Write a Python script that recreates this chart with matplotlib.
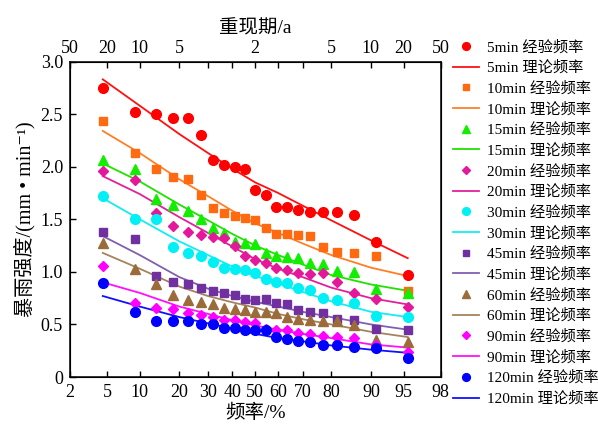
import math
import numpy as np
import matplotlib
matplotlib.use('Agg')
import matplotlib.pyplot as plt
from matplotlib.ticker import NullLocator

plt.rcParams['font.family'] = ['Liberation Serif', 'Noto Sans CJK SC', 'DejaVu Serif']

# empirical frequency m/(n+1), n = 21 (%)
freq_emp = [4.55, 9.09, 13.64, 18.18, 22.73, 27.27, 31.82, 36.36, 40.91, 45.45, 50.0,
            54.55, 59.09, 63.64, 68.18, 72.73, 77.27, 81.82, 86.36, 90.91, 95.45]
# frequencies at which the fitted curves were read (%)
freq_fit = [4.55, 10, 20, 30, 40, 50, 60, 70, 80, 90, 95.45]

emp_5 = [2.75, 2.52, 2.50, 2.46, 2.46, 2.30, 2.06, 2.02, 2.00, 1.98, 1.78,
         1.73, 1.62, 1.62, 1.59, 1.57, 1.57, 1.57, 1.54, 1.28, 0.97]
fit_5 = [2.83, 2.58, 2.31, 2.13, 1.98, 1.85, 1.75, 1.63, 1.49, 1.30, 1.13]

emp_10 = [2.43, 2.13, 1.98, 1.90, 1.88, 1.73, 1.61, 1.56, 1.53, 1.51, 1.49,
          1.42, 1.36, 1.36, 1.35, 1.34, 1.24, 1.19, 1.18, 1.15, 0.82]
fit_10 = [2.34, 2.13, 1.88, 1.72, 1.58, 1.46, 1.37, 1.27, 1.16, 1.04, 0.96]

emp_15 = [2.06, 1.98, 1.69, 1.64, 1.58, 1.50, 1.42, 1.37, 1.28, 1.27, 1.26,
          1.18, 1.15, 1.14, 1.13, 1.08, 1.07, 1.01, 1.00, 0.84, 0.80]
fit_15 = [2.03, 1.86, 1.64, 1.49, 1.36, 1.25, 1.16, 1.07, 0.97, 0.88, 0.82]

emp_20 = [1.96, 1.87, 1.56, 1.44, 1.38, 1.35, 1.33, 1.32, 1.25, 1.15, 1.11,
          1.08, 1.04, 1.02, 0.99, 0.98, 0.99, 0.90, 0.80, 0.74, 0.67]
fit_20 = [1.91, 1.74, 1.52, 1.37, 1.24, 1.12, 1.03, 0.95, 0.85, 0.75, 0.69]

emp_30 = [1.72, 1.50, 1.50, 1.24, 1.18, 1.15, 1.09, 1.04, 1.03, 1.02, 0.99,
          0.93, 0.90, 0.89, 0.85, 0.83, 0.75, 0.73, 0.70, 0.58, 0.57]
fit_30 = [1.70, 1.50, 1.29, 1.16, 1.05, 0.96, 0.89, 0.81, 0.72, 0.62, 0.57]

emp_45 = [1.38, 1.31, 0.96, 0.90, 0.88, 0.85, 0.82, 0.80, 0.78, 0.74, 0.73,
          0.74, 0.70, 0.69, 0.64, 0.62, 0.61, 0.55, 0.54, 0.46, 0.45]
fit_45 = [1.34, 1.16, 0.95, 0.84, 0.77, 0.715, 0.67, 0.62, 0.57, 0.50, 0.45]

emp_60 = [1.27, 1.03, 0.88, 0.78, 0.73, 0.71, 0.69, 0.66, 0.65, 0.64, 0.62,
          0.62, 0.61, 0.57, 0.55, 0.54, 0.53, 0.53, 0.49, 0.35, 0.33]
fit_60 = [1.18, 1.03, 0.86, 0.77, 0.71, 0.66, 0.60, 0.55, 0.50, 0.43, 0.38]

emp_90 = [1.06, 0.70, 0.66, 0.65, 0.61, 0.59, 0.57, 0.54, 0.54, 0.52, 0.51,
          0.46, 0.45, 0.45, 0.42, 0.41, 0.39, 0.38, 0.37, 0.30, 0.24]
fit_90 = [0.90, 0.80, 0.67, 0.60, 0.54, 0.49, 0.45, 0.41, 0.37, 0.31, 0.28]

emp_120 = [0.89, 0.62, 0.53, 0.53, 0.53, 0.50, 0.50, 0.47, 0.47, 0.45, 0.45,
           0.45, 0.38, 0.36, 0.34, 0.33, 0.30, 0.30, 0.29, 0.28, 0.18]
fit_120 = [0.77, 0.67, 0.57, 0.51, 0.46, 0.41, 0.37, 0.34, 0.30, 0.26, 0.23]

durations = ['5min', '10min', '15min', '20min', '30min', '45min', '60min', '90min', '120min']
emp_all = [emp_5, emp_10, emp_15, emp_20, emp_30, emp_45, emp_60, emp_90, emp_120]
fit_all = [fit_5, fit_10, fit_15, fit_20, fit_30, fit_45, fit_60, fit_90, fit_120]
markers = ['o', 's', '^', 'D', 'o', 's', '^', 'D', 'o']
msizes = [7, 6, 7, 5.5, 7, 6, 7, 5.5, 7]
mcolors = ['#FF0000', '#FF6A10', '#11EE00', '#E3189B', '#00F0F5',
           '#7030A0', '#9C6B3A', '#FF00FF', '#0000FF']
lcolors = ['#FF1010', '#FF7F27', '#22E000', '#E3209B', '#10EEF5',
           '#8060B0', '#A5835D', '#FF10FF', '#1010FF']

bottom_ticks = [2, 5, 10, 20, 30, 40, 50, 60, 70, 80, 90, 95, 98]
top_labels = {2: '50', 5: '20', 10: '10', 20: '5', 50: '2', 80: '5', 90: '10', 95: '20', 98: '50'}

# normal probability paper scale
_erf = np.vectorize(math.erf, otypes=[float])


def z_to_prob(z):
    z = np.asarray(z, dtype=float)
    return 100.0 * 0.5 * (1.0 + _erf(z / math.sqrt(2.0)))


def prob_to_z(p):
    p = np.clip(np.asarray(p, dtype=float) / 100.0, 1e-6, 1 - 1e-6)
    z = np.zeros_like(p)
    for _ in range(40):
        cdf = 0.5 * (1.0 + _erf(z / math.sqrt(2.0)))
        pdf = np.exp(-z * z / 2.0) / math.sqrt(2.0 * math.pi)
        z = z - (cdf - p) / pdf
    return z


fig = plt.figure(figsize=(5.98, 4.26), dpi=100)
ax = fig.add_axes([70 / 598, 1 - 377 / 426, 370.5 / 598, 315.5 / 426])
ax.set_xscale('function', functions=(prob_to_z, z_to_prob))

handles = []
for name, emp, fit, mk, ms, mc, lc in zip(durations, emp_all, fit_all, markers, msizes, mcolors, lcolors):
    h1, = ax.plot(freq_emp, emp, ls='none', marker=mk, ms=ms, color=mc, mec=mc,
                  label=name + ' 经验频率', zorder=3)
    h2, = ax.plot(freq_fit, fit, '-', lw=1.3, color=lc, label=name + ' 理论频率', zorder=2)
    handles += [h1, h2]

ax.set_xlim(2, 98)
ax.set_ylim(0, 3.0)
ax.set_xticks(bottom_ticks)
ax.set_xticklabels([str(t) for t in bottom_ticks])
ax.xaxis.set_minor_locator(NullLocator())
ax.set_yticks([0, 0.5, 1.0, 1.5, 2.0, 2.5, 3.0])
ax.set_yticklabels(['0', '0.5', '1.0', '1.5', '2.0', '2.5', '3.0'])
ax.tick_params(direction='in', length=4, width=1, labelsize=13, pad=5)
for s in ax.spines.values():
    s.set_linewidth(1.1)

ax.set_xlabel('频率/%', fontsize=14, labelpad=2)
ax.set_ylabel('暴雨强度/(mm • min⁻¹)', fontsize=14.5, labelpad=4)

axt = ax.twiny()
axt.set_xscale('function', functions=(prob_to_z, z_to_prob))
axt.set_xlim(2, 98)
axt.set_xticks(bottom_ticks)
axt.set_xticklabels([top_labels.get(t, '') for t in bottom_ticks])
axt.xaxis.set_minor_locator(NullLocator())
axt.tick_params(direction='in', length=4, width=1, labelsize=13, pad=3)
axt.set_xlabel('重现期/a', fontsize=14, labelpad=5)

fig.legend(handles, [h.get_label() for h in handles], loc='upper left',
           bbox_to_anchor=(453 / 598, 1 - 40 / 426), frameon=False, fontsize=11,
           handlelength=1.7, handletextpad=0.5, labelspacing=0.42, borderpad=0,
           borderaxespad=0, numpoints=1, markerscale=0.8)

fig.savefig('out.png', dpi=100)
